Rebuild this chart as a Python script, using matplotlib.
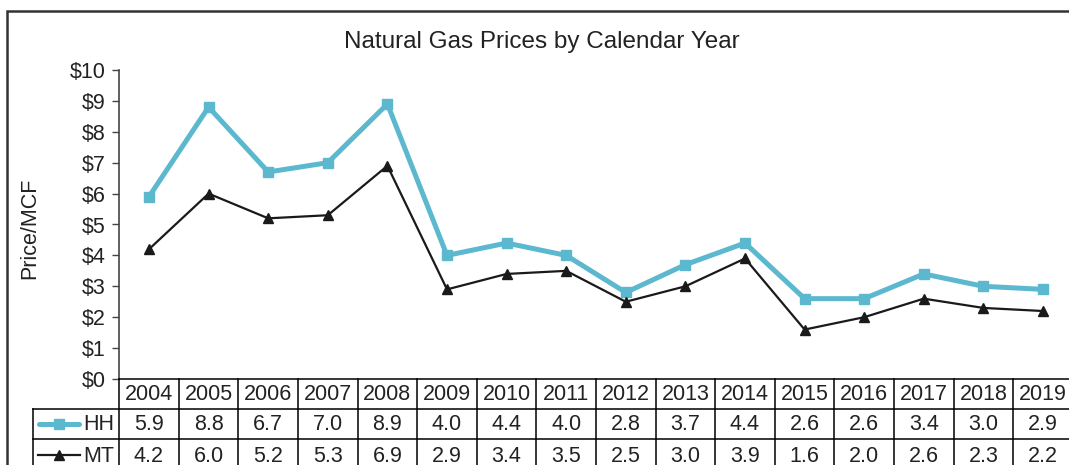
import matplotlib.pyplot as plt
from matplotlib.patches import Rectangle
from matplotlib.lines import Line2D
import matplotlib.transforms as mtransforms

plt.rcParams['font.family'] = ['Liberation Sans', 'DejaVu Sans']

years = ["2004", "2005", "2006", "2007", "2008", "2009", "2010", "2011",
         "2012", "2013", "2014", "2015", "2016", "2017", "2018", "2019"]
hh = [5.9, 8.8, 6.7, 7.0, 8.9, 4.0, 4.4, 4.0, 2.8, 3.7, 4.4, 2.6, 2.6, 3.4, 3.0, 2.9]
mt = [4.2, 6.0, 5.2, 5.3, 6.9, 2.9, 3.4, 3.5, 2.5, 3.0, 3.9, 1.6, 2.0, 2.6, 2.3, 2.2]
yticks = [0, 1, 2, 3, 4, 5, 6, 7, 8, 9, 10]

W, H = 1069, 465
hh_color = '#5CB8CF'
txt = '#222222'
fs = 15.5

fig = plt.figure(figsize=(W / 100, H / 100), dpi=100)


def fy(y):
    # pixel row (from top) -> figure fraction
    return 1 - y / H


ax = fig.add_axes([119.2 / W, fy(379), (1072.8 - 119.2) / W, (379 - 70) / H])
x = list(range(len(years)))
ax.plot(x, hh, color=hh_color, lw=3.6, marker='s', ms=7.5, zorder=3, clip_on=False)
ax.plot(x, mt, color='#1a1a1a', lw=1.6, marker='^', ms=7.5, zorder=4, clip_on=False)

ax.set_xlim(-0.5, len(years) - 0.5)
ax.set_ylim(0, 10)
ax.set_yticks(yticks)
ax.set_yticklabels(["$%d" % v for v in yticks], fontsize=fs, color=txt)
ax.tick_params(axis='y', length=5, width=1, color='#444444', pad=5)
ax.set_xticks([])
for s in ['top', 'right', 'bottom']:
    ax.spines[s].set_visible(False)
ax.spines['left'].set_color('#444444')
ax.spines['left'].set_linewidth(1.2)

fig.text(30 / W, fy(228), "Price/MCF", rotation=90, ha='center', va='center',
         fontsize=fs, color=txt)
fig.text(542 / W, fy(42), "Natural Gas Prices by Calendar Year", ha='center',
         va='center', fontsize=17.5, color=txt)

# data table under the axis
tr = mtransforms.blended_transform_factory(ax.transData, fig.transFigure)
row_bot = 480
lk = dict(color='black', lw=1.1, clip_on=False)
fig.add_artist(Line2D([119.2 / W, 1.01], [fy(379), fy(379)], transform=fig.transFigure, **lk))
for yy in [409, 439]:
    fig.add_artist(Line2D([33 / W, 1.01], [fy(yy), fy(yy)], transform=fig.transFigure, **lk))
for i in range(len(years) + 1):
    fig.add_artist(Line2D([i - 0.5, i - 0.5], [fy(379), fy(row_bot)], transform=tr, **lk))
fig.add_artist(Line2D([33 / W, 33 / W], [fy(409), fy(row_bot)], transform=fig.transFigure, **lk))

for i, yr in enumerate(years):
    fig.text(i, fy(394), yr, transform=tr, ha='center', va='center', fontsize=fs, color=txt)
    fig.text(i, fy(424), "%.1f" % hh[i], transform=tr, ha='center', va='center', fontsize=fs, color=txt)
    fig.text(i, fy(456), "%.1f" % mt[i], transform=tr, ha='center', va='center', fontsize=fs, color=txt)

# legend keys inside the table
fig.add_artist(Line2D([39 / W, 59 / W, 79 / W], [fy(424)] * 3, transform=fig.transFigure,
                      color=hh_color, lw=3.6, marker='s', ms=7.5, markevery=[1],
                      solid_capstyle='round'))
fig.add_artist(Line2D([38 / W, 59 / W, 80 / W], [fy(455)] * 3, transform=fig.transFigure,
                      color='#1a1a1a', lw=1.6, marker='^', ms=7.5, markevery=[1]))
fig.text(83 / W, fy(424), "HH", ha='left', va='center', fontsize=fs, color=txt)
fig.text(83 / W, fy(456), "MT", ha='left', va='center', fontsize=fs, color=txt)

# outer chart border, cropped on the right and bottom
fig.add_artist(Rectangle((7 / W, fy(520)), 1.2, (520 - 11) / H, transform=fig.transFigure,
                         fill=False, ec='#333333', lw=1.8, clip_on=False))

fig.savefig('out.png', dpi=100)
